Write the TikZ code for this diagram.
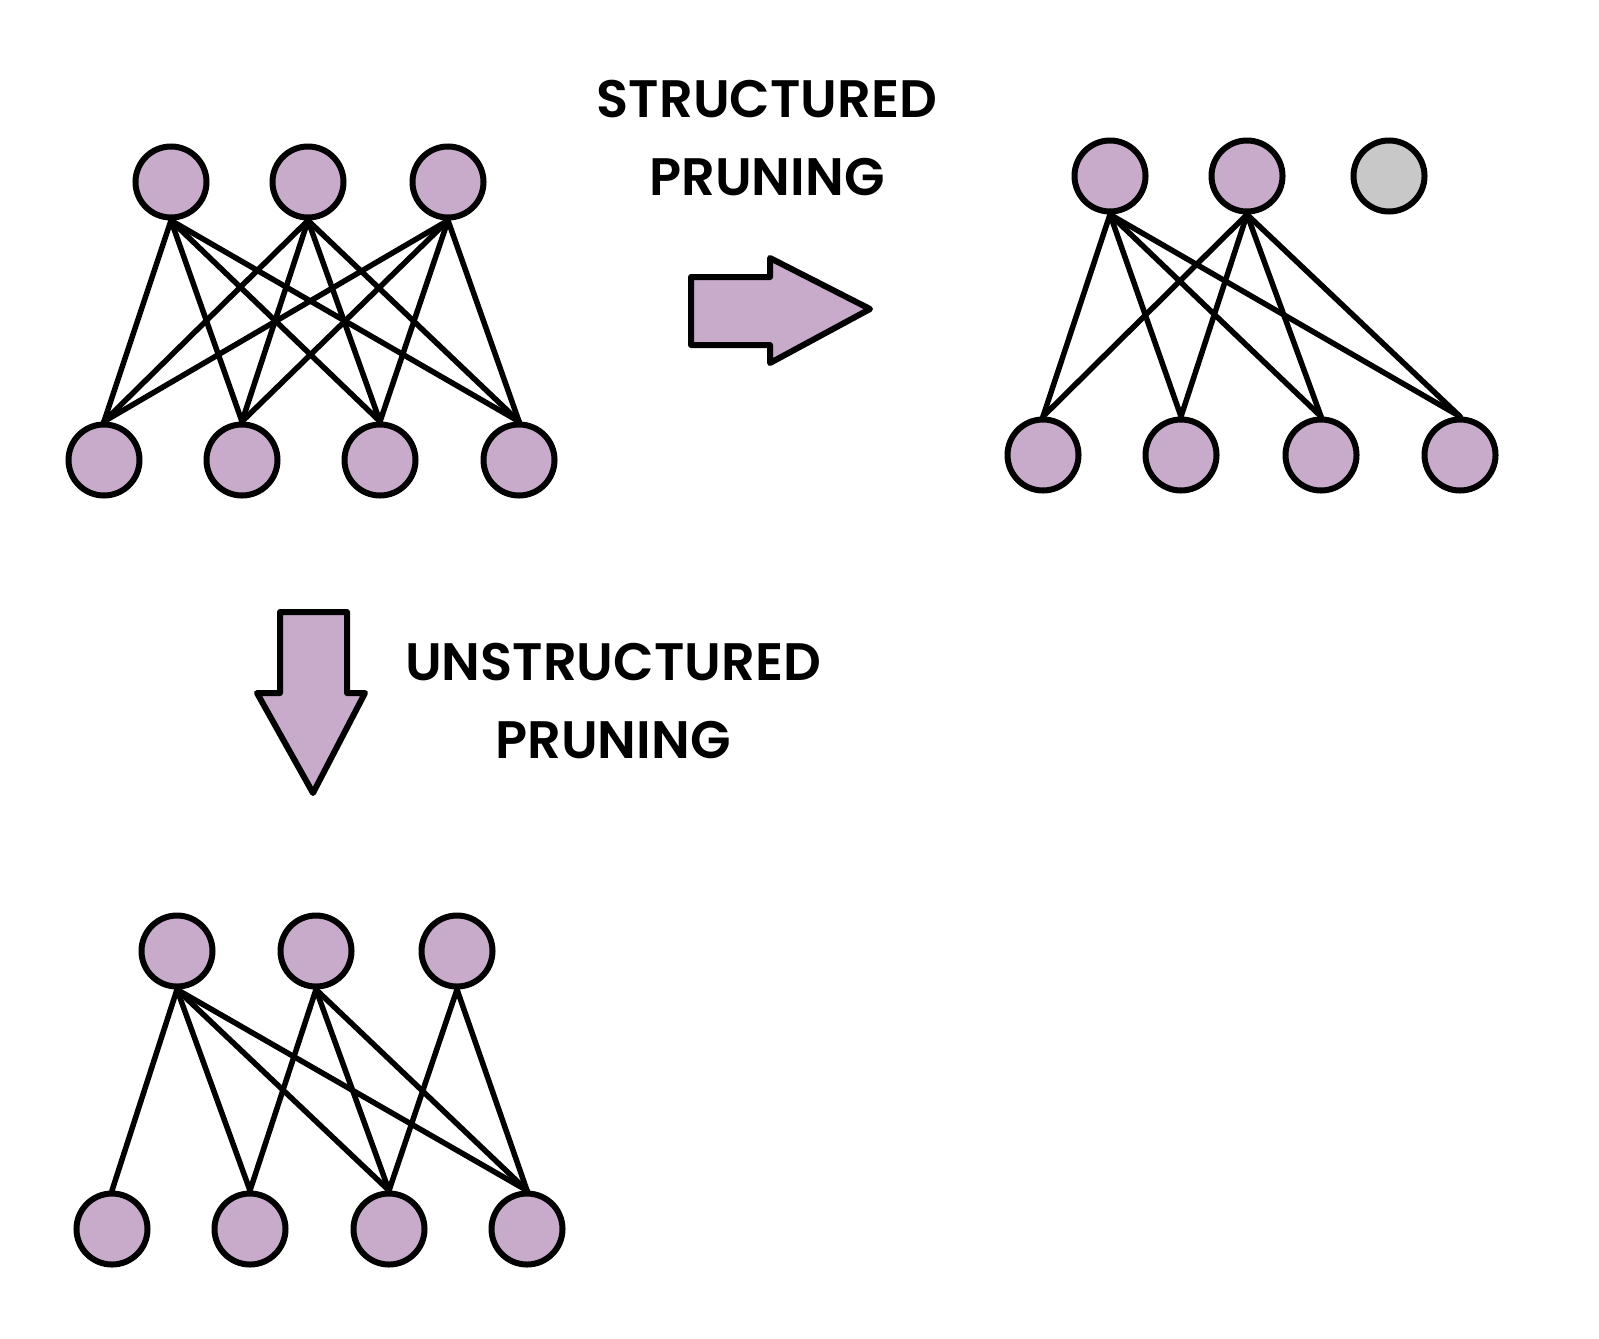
\documentclass[tikz,border=0pt]{standalone}
\usepackage{fontspec}
\usepackage{tikz}
\newfontfamily\prunefont{Poppins SemiBold}
\definecolor{lilac}{HTML}{C8AACA}
\definecolor{offgray}{HTML}{C8C8C8}

\begin{document}
\begin{tikzpicture}[x=0.1mm,y=-0.1mm,
		neuron/.style={circle, draw=black, line width=0.6mm, fill=lilac, minimum size=7.1mm, inner sep=0pt},
		dead/.style={neuron, fill=offgray},
		conn/.style={draw=black, line width=0.55mm, line cap=round},
		bigarrow/.style={draw=black, fill=lilac, line width=0.6mm, line join=round},
		caption/.style={align=center, font=\prunefont\fontsize{15}{22}\selectfont}]
	\useasboundingbox (0,0) rectangle (1599,1338);

	% original network
	\node[neuron] (l-1-1) at (171,182) {};
	\node[neuron] (l-1-2) at (308,182) {};
	\node[neuron] (l-1-3) at (448,182) {};
	\node[neuron] (l-2-1) at (104,460) {};
	\node[neuron] (l-2-2) at (242,460) {};
	\node[neuron] (l-2-3) at (380,460) {};
	\node[neuron] (l-2-4) at (519,460) {};
	\path[conn]
	(l-1-1.south) edge (l-2-1.north) edge (l-2-2.north) edge (l-2-3.north) edge (l-2-4.north)
	(l-1-2.south) edge (l-2-1.north) edge (l-2-2.north) edge (l-2-3.north) edge (l-2-4.north)
	(l-1-3.south) edge (l-2-1.north) edge (l-2-2.north) edge (l-2-3.north) edge (l-2-4.north);

	% structured pruning
	\filldraw[bigarrow] (691,277) -- (770,277) -- (770,258) -- (870,309) -- (770,363) -- (770,345) -- (691,345) -- cycle;
	\node[caption] (s-lab) at (767,138) {STRUCTURED\\PRUNING};

	\node[neuron] (r-1-1) at (1110,176) {};
	\node[neuron] (r-1-2) at (1247,176) {};
	\node[dead]   (r-1-3) at (1389,176) {};
	\node[neuron] (r-2-1) at (1043,455) {};
	\node[neuron] (r-2-2) at (1181,455) {};
	\node[neuron] (r-2-3) at (1321,455) {};
	\node[neuron] (r-2-4) at (1460,455) {};
	\path[conn]
	(r-1-1.south) edge (r-2-1.north) edge (r-2-2.north) edge (r-2-3.north) edge (r-2-4.north)
	(r-1-2.south) edge (r-2-1.north) edge (r-2-2.north) edge (r-2-3.north) edge (r-2-4.north);

	% unstructured pruning
	\filldraw[bigarrow] (280,612) -- (347,612) -- (347,693) -- (365,693) -- (313,793) -- (257,693) -- (280,693) -- cycle;
	\node[caption] (u-lab) at (613,701) {UNSTRUCTURED\\PRUNING};

	\node[neuron] (u-1-1) at (177,951) {};
	\node[neuron] (u-1-2) at (316,951) {};
	\node[neuron] (u-1-3) at (457,951) {};
	\node[neuron] (u-2-1) at (112,1229) {};
	\node[neuron] (u-2-2) at (250,1229) {};
	\node[neuron] (u-2-3) at (389,1229) {};
	\node[neuron] (u-2-4) at (527,1229) {};
	\path[conn]
	(u-1-1.south) edge (u-2-1.north) edge (u-2-2.north) edge (u-2-3.north) edge (u-2-4.north)
	(u-1-2.south) edge (u-2-2.north) edge (u-2-3.north) edge (u-2-4.north)
	(u-1-3.south) edge (u-2-3.north) edge (u-2-4.north);
\end{tikzpicture}
\end{document}
